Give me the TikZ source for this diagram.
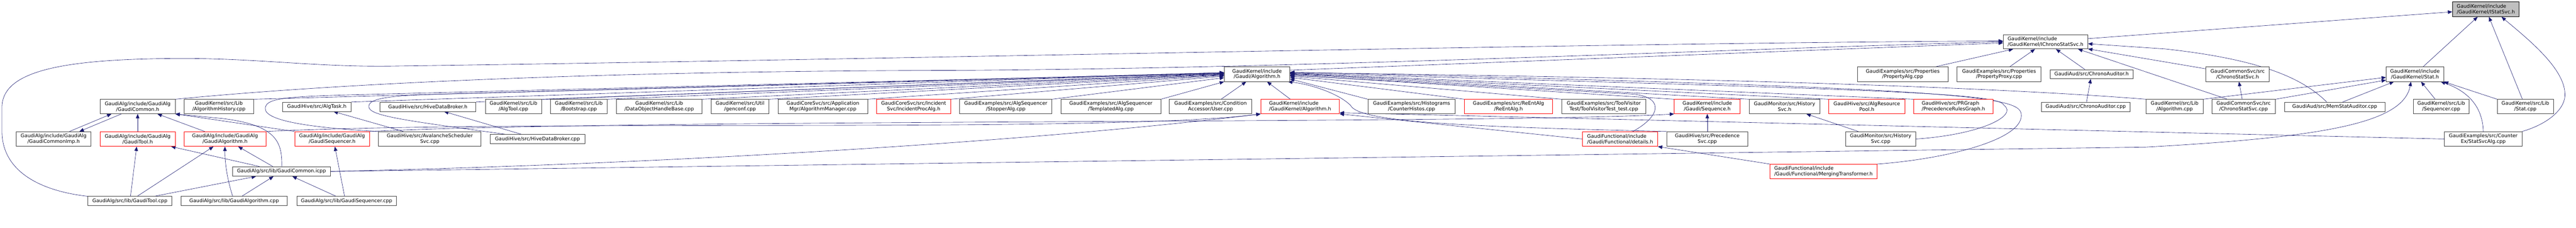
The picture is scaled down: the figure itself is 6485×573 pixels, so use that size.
\documentclass[tikz,border=0pt]{standalone}
\usepackage{fontspec}
\setmainfont{DejaVu Sans}
\usetikzlibrary{arrows.meta}
\pgfdeclarelayer{bottom}
\pgfdeclarelayer{edges}
\pgfsetlayers{bottom,edges,main}
\definecolor{edgeblue}{RGB}{25,25,112}
\definecolor{boxgray}{RGB}{64,64,64}
\definecolor{rootfill}{RGB}{191,191,191}
\tikzset{
  bx/.style={draw=boxgray, line width=1pt, fill=white, inner sep=0pt, align=center, font=\fontsize{12.4}{14}\selectfont},
  redbox/.style={bx, draw=red},
  rootbox/.style={bx, draw=black, fill=rootfill},
  lft/.style={align=left},
  dep/.style={draw=edgeblue, line width=0.8pt, -{Triangle[length=11pt,width=9pt]}},
}
\newcommand\mkbox[7]{\node[#6, minimum width={#4-#2}, minimum height={#5-#3}] (#1) at ({(#2+#4)/2},{(#3+#5)/2}) {#7};}
\begin{document}
\begin{tikzpicture}[x=1pt,y=-1pt]
\useasboundingbox (0,0) rectangle (6485,573);
\begin{pgfonlayer}{bottom}
\fill[white] (0,0) rectangle (6485,573);
\end{pgfonlayer}
% row 0-2
\mkbox{ist}{6174}{5}{6342}{42}{rootbox,lft}{GaudiKernel/include\\/GaudiKernel/IStatSvc.h}
\mkbox{ics}{5043}{87}{5256}{123}{bx,lft}{GaudiKernel/include\\/GaudiKernel/IChronoStatSvc.h}
\mkbox{galg}{3082}{168}{3247}{205}{bx}{GaudiKernel/include\\/Gaudi/Algorithm.h}
\mkbox{palg}{4676}{168}{4904}{205}{bx}{GaudiExamples/src/Properties\\/PropertyAlg.cpp}
\mkbox{pprox}{4927}{168}{5138}{205}{bx}{GaudiExamples/src/Properties\\/PropertyProxy.cpp}
\mkbox{chaudh}{5161}{175}{5370}{198}{bx}{GaudiAud/src/ChronoAuditor.h}
\mkbox{csh}{5553}{168}{5713}{205}{bx}{GaudiCommonSvc/src\\/ChronoStatSvc.h}
\mkbox{stath}{6007}{168}{6152}{205}{bx}{GaudiKernel/include\\/GaudiKernel/Stat.h}
% row 3
\mkbox{gch}{252}{250}{441}{286}{bx}{GaudiAlg/include/GaudiAlg\\/GaudiCommon.h}
\mkbox{ahist}{463}{250}{639}{286}{bx}{GaudiKernel/src/Lib\\/AlgorithmHistory.cpp}
\mkbox{algtask}{711}{257}{884}{280}{bx}{GaudiHive/src/AlgTask.h}
\mkbox{hdbh}{956}{257}{1198}{280}{bx}{GaudiHive/src/HiveDataBroker.h}
\mkbox{algtool}{1222}{250}{1363}{286}{bx}{GaudiKernel/src/Lib\\/AlgTool.cpp}
\mkbox{boot}{1386}{250}{1528}{286}{bx}{GaudiKernel/src/Lib\\/Bootstrap.cpp}
\mkbox{dohb}{1552}{250}{1767}{286}{bx}{GaudiKernel/src/Lib\\/DataObjectHandleBase.cpp}
\mkbox{genconf}{1790}{250}{1936}{286}{bx}{GaudiKernel/src/Util\\/genconf.cpp}
\mkbox{algmgr}{1959}{250}{2184}{286}{bx}{GaudiCoreSvc/src/Application\\Mgr/AlgorithmManager.cpp}
\mkbox{incproc}{2207}{250}{2393}{286}{redbox}{GaudiCoreSvc/src/Incident\\Svc/IncidentProcAlg.h}
\mkbox{stopper}{2416}{250}{2648}{286}{bx}{GaudiExamples/src/AlgSequencer\\/StopperAlg.cpp}
\mkbox{templ}{2671}{250}{2922}{286}{bx}{GaudiExamples/src/AlgSequencer\\/TemplatedAlg.cpp}
\mkbox{user}{2944}{250}{3151}{286}{bx}{GaudiExamples/src/Condition\\Accessor/User.cpp}
\mkbox{gkalg}{3174}{250}{3372}{286}{redbox,lft}{GaudiKernel/include\\/GaudiKernel/Algorithm.h}
\mkbox{chist}{3444}{250}{3663}{286}{bx}{GaudiExamples/src/Histograms\\/CounterHistos.cpp}
\mkbox{reent}{3687}{250}{3908}{286}{redbox}{GaudiExamples/src/ReEntAlg\\/ReEntAlg.h}
\mkbox{tvt}{3932}{250}{4143}{286}{bx}{GaudiExamples/src/ToolVisitor\\Test/ToolVisitorTest\_test.cpp}
\mkbox{seqh}{4215}{250}{4381}{286}{redbox}{GaudiKernel/include\\/Gaudi/Sequence.h}
\mkbox{hsvch}{4404}{250}{4581}{286}{bx}{GaudiMonitor/src/History\\Svc.h}
\mkbox{arp}{4604}{250}{4795}{286}{redbox}{GaudiHive/src/AlgResource\\Pool.h}
\mkbox{prg}{4818}{250}{5017}{286}{redbox,lft}{GaudiHive/src/PRGraph\\/PrecedenceRulesGraph.h}
\mkbox{chaudc}{5139}{257}{5362}{280}{bx}{GaudiAud/src/ChronoAuditor.cpp}
\mkbox{algcpp}{5403}{250}{5546}{286}{bx}{GaudiKernel/src/Lib\\/Algorithm.cpp}
\mkbox{cscpp}{5568}{250}{5728}{286}{bx}{GaudiCommonSvc/src\\/ChronoStatSvc.cpp}
\mkbox{memstat}{5751}{257}{6004}{280}{bx}{GaudiAud/src/MemStatAuditor.cpp}
\mkbox{seqcpp}{6075}{250}{6216}{286}{bx}{GaudiKernel/src/Lib\\/Sequencer.cpp}
\mkbox{statcpp}{6287}{250}{6428}{286}{bx}{GaudiKernel/src/Lib\\/Stat.cpp}
% row 4
\mkbox{gcimp}{41}{331}{229}{368}{bx}{GaudiAlg/include/GaudiAlg\\/GaudiCommonImp.h}
\mkbox{gtoolh}{252}{331}{441}{368}{redbox}{GaudiAlg/include/GaudiAlg\\/GaudiTool.h}
\mkbox{galgh}{463}{331}{670}{368}{redbox}{GaudiAlg/include/GaudiAlg\\/GaudiAlgorithm.h}
\mkbox{gseqh}{742}{331}{930}{368}{redbox}{GaudiAlg/include/GaudiAlg\\/GaudiSequencer.h}
\mkbox{avsch}{953}{331}{1211}{368}{bx}{GaudiHive/src/AvalancheScheduler\\Svc.cpp}
\mkbox{hdbc}{1234}{338}{1472}{361}{bx}{GaudiHive/src/HiveDataBroker.cpp}
\mkbox{details}{3984}{331}{4173}{368}{redbox,lft}{GaudiFunctional/include\\/Gaudi/Functional/details.h}
\mkbox{precsvc}{4196}{331}{4400}{368}{bx}{GaudiHive/src/Precedence\\Svc.cpp}
\mkbox{hsvcc}{4646}{331}{4823}{368}{bx}{GaudiMonitor/src/History\\Svc.cpp}
\mkbox{statsvcalg}{6154}{331}{6349}{368}{bx}{GaudiExamples/src/Counter\\Ex/StatSvcAlg.cpp}
% row 5-6
\mkbox{icpp}{585}{419}{832}{443}{bx}{GaudiAlg/src/lib/GaudiCommon.icpp}
\mkbox{merg}{4456}{413}{4725}{449}{redbox,lft}{GaudiFunctional/include\\/Gaudi/Functional/MergingTransformer.h}
\mkbox{gtoolc}{221}{494}{433}{517}{bx}{GaudiAlg/src/lib/GaudiTool.cpp}
\mkbox{galgc}{456}{494}{723}{517}{bx}{GaudiAlg/src/lib/GaudiAlgorithm.cpp}
\mkbox{gseqc}{747}{494}{998}{517}{bx}{GaudiAlg/src/lib/GaudiSequencer.cpp}

\begin{pgfonlayer}{edges}
% IStatSvc
\draw[dep] (ics) -- (ist);
\draw[dep] (stath) -- (ist);
\draw[dep] (statcpp) -- (ist);
\draw[dep] (statsvcalg.north east) .. controls (6420,310) and (6460,270) .. (6457,235) .. controls (6455,170) and (6360,95) .. ([xshift=-45pt]ist.south east);
% IChronoStatSvc
\draw[dep] (gtoolc.north west) .. controls (100,480) and (5,430) .. (5,330) -- (5,270) .. controls (5,180) and (150,148) .. (450,147) .. controls (650,146) and (800,170) .. (1000,166) .. controls (2200,150) and (4000,108) .. ([yshift=2pt]ics.west);
\draw[dep] (gch.north east) .. controls (900,205) and (1600,178) .. (2400,177) .. controls (3300,172) and (4300,125) .. (ics.west);
\draw[dep] ([yshift=10pt]galg.east) -- ([yshift=-3pt]ics.west);
\draw[dep] (palg) -- (ics);
\draw[dep] (pprox) -- (ics);
\draw[dep] (chaudh) -- (ics);
\draw[dep] ([xshift=40pt]cscpp.north west) -- ([xshift=-25pt]ics.south east);
\draw[dep] (csh) -- (ics);
\draw[dep] ([xshift=-20pt]memstat.north) .. controls (5800,200) and (5700,150) .. (5450,123) -- ([yshift=-5pt]ics.east);
% Stat.h
\draw[dep] (algcpp.north east) -- ([yshift=-8pt]stath.west);
\draw[dep] (cscpp.north east) -- ([yshift=-15pt]stath.west);
\draw[dep] ([xshift=20pt]memstat.north) -- ([xshift=20pt]stath.south west);
\draw[dep] (seqcpp) -- (stath);
\draw[dep] (statcpp.north west) -- (stath.south east);
\draw[dep] (statsvcalg.north) .. controls (6250,270) and (6215,230) .. ([xshift=-8pt]stath.south east);
\draw[dep] (icpp.east) -- (5400,370) .. controls (5850,345) and (6050,310) .. ([xshift=63pt]stath.south west);
\draw[dep] (chaudc) -- (chaudh);
\draw[dep] (cscpp) -- (csh);
% Gaudi/Algorithm.h, left side
\draw[dep] (ahist.north east) -- ([yshift=4pt]galg.west);
\draw[dep] (algtask.north east) -- ([yshift=4pt]galg.west);
\draw[dep] (avsch.north west) .. controls (760,320) and (650,300) .. (670,265) .. controls (680,245) and (750,242) .. (900,238) -- ([yshift=3pt]galg.west);
\draw[dep] (hdbh.north east) -- ([yshift=2pt]galg.west);
\draw[dep] ([xshift=38pt]hdbc.north west) .. controls (1000,300) and (915,290) .. (930,262) .. controls (940,245) and (1000,240) .. (1100,237) -- ([yshift=2pt]galg.west);
\draw[dep] (algtool.north east) -- ([yshift=1pt]galg.west);
\draw[dep] (boot.north east) -- (galg.west);
\draw[dep] (dohb.north east) -- ([yshift=-1pt]galg.west);
\draw[dep] (genconf.north east) -- ([yshift=-2pt]galg.west);
\draw[dep] (algmgr.north east) -- ([yshift=-3pt]galg.west);
\draw[dep] (incproc.north east) -- ([yshift=-5pt]galg.west);
\draw[dep] (stopper.north east) -- ([yshift=-9pt]galg.west);
\draw[dep] (templ.north east) -- (galg.south west);
\draw[dep] (user) -- (galg);
\draw[dep] (gkalg) -- (galg);
% Gaudi/Algorithm.h, right side
\draw[dep] (chist.north west) -- ([yshift=-12pt]galg.east);
\draw[dep] (reent.north west) -- ([yshift=-8pt]galg.east);
\draw[dep] (tvt.north west) -- ([yshift=-5pt]galg.east);
\draw[dep] (seqh.north west) -- ([yshift=-2pt]galg.east);
\draw[dep] (hsvch.north west) -- (galg.east);
\draw[dep] (arp.north west) -- ([yshift=1pt]galg.east);
\draw[dep] (prg.north west) -- ([yshift=2pt]galg.east);
\draw[dep] (algcpp.north west) .. controls (5000,218) and (4300,196) .. ([yshift=4pt]galg.east);
\draw[dep] ([xshift=32pt]details.north) .. controls (4185,290) and (4190,240) .. (4100,236) -- ([yshift=-3pt]galg.east);
\draw[dep] (hsvcc.east) .. controls (4990,338) and (5080,290) .. (5045,265) .. controls (5035,232) and (4700,225) .. ([yshift=3pt]galg.east);
\draw[dep] (merg.north east) .. controls (4900,400) and (5100,350) .. (5088,285) .. controls (5080,240) and (4900,220) .. ([yshift=5pt]galg.east);
\draw[dep] (precsvc.north west) .. controls (3650,318) and (3420,305) .. (3400,265) .. controls (3370,235) and (3300,212) .. ([xshift=-5pt]galg.south east);
% GaudiKernel/Algorithm.h
\draw[dep] (galgh.north east) .. controls (1300,300) and (2800,335) .. (gkalg.south west);
\draw[dep] (icpp.east) .. controls (1800,410) and (2700,345) .. (gkalg.south west);
\draw[dep] (statsvcalg.west) -- ([yshift=3pt]gkalg.south east);
\draw[dep] (details.west) -- (gkalg.south east);
% Sequence.h and others
\draw[dep] (gseqh.north east) .. controls (1600,298) and (3800,312) .. (seqh.south west);
\draw[dep] (precsvc) -- (seqh);
\draw[dep] (hsvcc) -- (hsvch);
\draw[dep] (merg.north west) -- (details.south east);
% GaudiCommon.h group
\draw[dep] ([xshift=40pt]gcimp.north) -- ([xshift=-66pt]gch.south);
\draw[dep] ([xshift=-41pt]gch.south) -- ([xshift=65pt]gcimp.north);
\draw[dep] (gtoolh) -- (gch);
\draw[dep] (galgh) -- (gch);
\draw[dep] ([xshift=1pt]icpp.north) .. controls (710,360) and (700,315) .. (560,298) -- (gch.south east);
\draw[dep] (gseqh.north west) -- (gch.south east);
\draw[dep] (gtoolc) -- (gtoolh);
\draw[dep] (icpp) -- (gtoolh);
\draw[dep] (gtoolc) -- (galgh);
\draw[dep] (gtoolc) -- (icpp);
\draw[dep] (galgc) .. controls (572,450) and (566,410) .. (galgh);
\draw[dep] (galgc) -- (icpp);
\draw[dep] (icpp) -- (galgh);
\draw[dep] (gseqc) -- (icpp);
\draw[dep] ([xshift=-5pt]gseqc.north) -- ([xshift=7pt]gseqh.south);
% GaudiHive
\draw[dep] (avsch) -- (algtask);
\draw[dep] (hdbc) -- (hdbh);
\end{pgfonlayer}
\end{tikzpicture}
\end{document}
